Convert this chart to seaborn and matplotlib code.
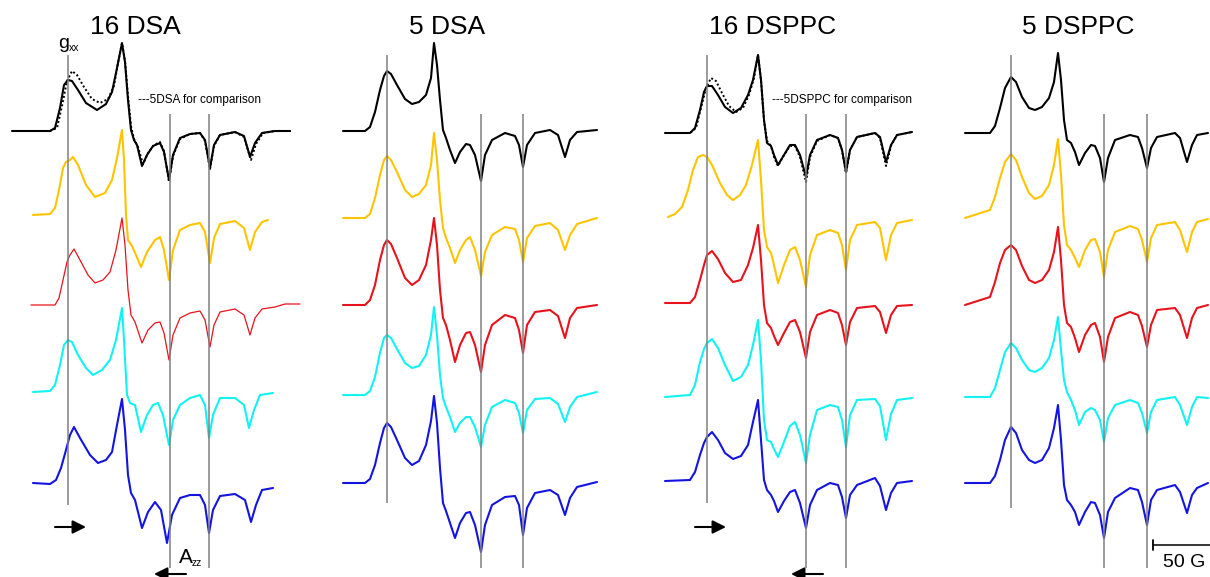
import numpy as np
import pandas as pd
import seaborn as sns
import matplotlib.pyplot as plt

sns.set_theme(style="white")
plt.rcParams['font.family'] = ['Liberation Sans', 'DejaVu Sans']
plt.rcParams['text.color'] = 'black'

# panel titles and guide-line positions (field, px units)
titles = ["16 DSA", "5 DSA", "16 DSPPC", "5 DSPPC"]
title_x = [135, 447, 773, 1078]
gxx_pos = [68, 387, 707, 1011]
gxx_span = [(55, 505), (55, 503), (55, 503), (55, 508)]
azz_pos = [(170, 209), (481, 523), (806, 846), (1104, 1147)]
azz_span = (114, 568)

trace_names = ["black", "yellow", "red", "cyan", "blue"]
trace_colors = {"black": "#000000", "yellow": "#FFC400", "red": "#E8121C",
                "cyan": "#12F2F2", "blue": "#1414E0"}
baselines = [[131, 215, 305, 392, 484],
             [131, 218, 305, 395, 483],
             [133, 217, 303, 397, 481],
             [133, 218, 305, 397, 483]]

# ---- 16 DSA ----
dsa16_black_x = [12, 50, 55, 60, 64, 68, 72, 78, 86, 97, 106, 112, 117, 122, 125, 128, 131, 134, 137, 142,
                 147, 153, 160, 164, 169, 173, 180, 190, 200, 205, 210, 214, 220, 235, 244, 250, 255, 262, 275, 290]
dsa16_black_y = [0, 0, 3, 23, 46, 51, 50, 41, 28, 21, 27, 39, 63, 88, 69, 31, 1, -9, -14, -35,
                 -24, -15, -12, -21, -49, -24, -7, -3, -2, -9, -37, -14, -4, -1, -5, -26, -12, -2, 0, 0]
dsa16_ref_x = [50, 57, 62, 67, 72, 77, 84, 92, 100, 108, 114, 118, 122, 125, 128, 131, 134, 138, 143, 148,
               154, 160, 164, 169, 173, 180, 190, 200, 205, 210, 214, 220, 235, 244, 251, 256, 263, 275, 292]
dsa16_ref_y = [0, 3, 25, 50, 60, 56, 44, 32, 28, 32, 45, 68, 88, 70, 35, 5, -8, -16, -33, -22,
               -14, -11, -20, -51, -25, -8, -3, -2, -10, -38, -15, -4, -1, -6, -29, -13, -2, 0, 0]
dsa16_yellow_x = [33, 50, 55, 59, 63, 66, 70, 73, 78, 86, 95, 105, 112, 117, 122, 124, 126, 128, 132, 136,
                  141, 147, 155, 160, 164, 169, 173, 180, 190, 200, 205, 210, 214, 220, 235, 244, 250, 255, 262, 268]
dsa16_yellow_y = [0, 1, 7, 25, 47, 53, 55, 58, 50, 30, 18, 22, 35, 57, 85, 55, 0, -25, -31, -40,
                  -52, -37, -25, -22, -35, -65, -35, -15, -10, -8, -17, -48, -23, -9, -6, -13, -35, -17, -7, -5]
dsa16_red_x = [31, 55, 59, 63, 67, 70, 74, 80, 88, 95, 103, 110, 116, 122, 125, 128, 131, 135, 142, 148,
               155, 160, 164, 169, 173, 180, 190, 200, 205, 210, 214, 220, 235, 244, 250, 255, 262, 275, 285, 300]
dsa16_red_y = [0, 0, 7, 25, 43, 50, 56, 45, 30, 22, 25, 33, 55, 87, 60, 15, -10, -17, -38, -25,
               -18, -17, -28, -55, -30, -13, -8, -6, -15, -42, -20, -7, -4, -10, -30, -13, -4, -2, 1, 1]
dsa16_cyan_x = [33, 50, 55, 60, 64, 68, 72, 78, 86, 93, 102, 110, 116, 122, 124, 127, 130, 135, 141, 147,
                153, 158, 163, 169, 173, 180, 190, 200, 205, 209, 213, 220, 235, 244, 249, 254, 260, 273]
dsa16_cyan_y = [0, 1, 7, 27, 47, 52, 50, 37, 24, 17, 22, 32, 52, 84, 52, -3, -11, -13, -40, -23,
                -13, -11, -23, -53, -28, -13, -6, -3, -13, -46, -23, -6, -6, -13, -36, -18, -3, -1]
dsa16_blue_x = [33, 50, 56, 61, 66, 70, 74, 80, 90, 98, 106, 112, 117, 122, 125, 128, 131, 135, 142, 148,
                155, 161, 167, 172, 180, 190, 200, 205, 209, 213, 220, 235, 245, 251, 256, 262, 273]
dsa16_blue_y = [1, 0, 4, 16, 34, 49, 57, 46, 29, 21, 24, 32, 59, 85, 54, 9, -9, -16, -44, -28,
                -18, -26, -59, -31, -14, -11, -11, -21, -49, -26, -12, -10, -16, -38, -21, -6, -4]

# ---- 5 DSA ----
dsa5_x = [343, 365, 370, 375, 380, 384, 387, 391, 397, 405, 412, 419, 426, 431, 434, 437, 440, 443, 446, 450,
          455, 460, 466, 470, 475, 481, 485, 492, 505, 515, 519, 523, 527, 535, 550, 558, 565, 570, 577, 597]
dsa5_black_y = [0, 0, 4, 19, 41, 55, 60, 57, 46, 32, 27, 29, 36, 53, 88, 66, 31, 1, -7, -19,
                -32, -21, -13, -14, -24, -50, -24, -9, -2, -5, -14, -36, -14, -2, 1, -4, -26, -9, -1, 1]
dsa5_yellow_y = [0, 0, 4, 20, 43, 58, 62, 58, 46, 28, 21, 24, 33, 53, 85, 58, 18, -10, -20, -30,
                 -45, -32, -22, -19, -32, -58, -34, -17, -9, -11, -22, -44, -20, -8, -5, -12, -32, -17, -6, 0]
dsa5_red_y = [0, 0, 5, 20, 45, 60, 65, 61, 47, 27, 20, 25, 40, 65, 87, 60, 15, -13, -20, -35,
              -57, -40, -28, -27, -40, -67, -40, -20, -10, -13, -25, -48, -20, -7, -5, -11, -33, -13, -3, 0]
dsa5_cyan_y = [0, 0, 4, 18, 42, 57, 60, 57, 46, 32, 27, 29, 40, 60, 88, 60, 20, -3, -12, -22,
               -37, -28, -22, -22, -32, -52, -30, -12, -5, -8, -18, -38, -15, -4, -3, -9, -27, -12, -2, 3]
dsa5_blue_y = [0, 0, 4, 18, 40, 55, 60, 56, 43, 25, 18, 22, 38, 62, 87, 60, 15, -20, -28, -40,
               -55, -40, -30, -29, -42, -69, -42, -22, -14, -13, -22, -52, -25, -10, -7, -12, -32, -15, -4, 1]

# ---- 16 DSPPC ----
dsppc16_x = [665, 690, 695, 700, 704, 707, 712, 718, 725, 733, 741, 748, 753, 758, 761, 764, 767, 771, 774, 778,
             784, 790, 795, 800, 806, 810, 817, 830, 838, 842, 846, 850, 857, 875, 880, 886, 891, 897, 912]
dsppc16_black_y = [0, 0, 5, 23, 41, 47, 47, 38, 26, 20, 25, 38, 53, 78, 53, 13, -10, -13, -22, -32,
                   -22, -12, -12, -22, -44, -22, -7, -2, -5, -17, -39, -17, -4, 0, -4, -29, -12, -2, 1]
dsppc16_ref_x = [665, 690, 696, 701, 706, 711, 716, 722, 729, 736, 743, 749, 754, 758, 761, 764, 767, 771, 774, 778,
                 784, 790, 795, 800, 806, 810, 817, 830, 838, 842, 846, 850, 857, 875, 880, 886, 891, 897, 912]
dsppc16_ref_y = [0, 0, 5, 25, 45, 55, 52, 40, 27, 21, 25, 38, 55, 78, 53, 13, -8, -13, -24, -33,
                 -22, -13, -13, -24, -49, -24, -8, -2, -5, -17, -40, -17, -4, 0, -5, -33, -13, -2, 1]
dsppc16_yellow_x = [668, 675, 682, 688, 693, 698, 703, 707, 712, 720, 727, 733, 740, 746, 752, 758, 761, 764, 767, 771,
                    774, 778, 784, 790, 795, 800, 806, 810, 817, 830, 838, 842, 846, 850, 857, 875, 880, 886, 891, 897, 912]
dsppc16_yellow_y = [0, 3, 10, 27, 47, 60, 62, 60, 52, 34, 22, 17, 22, 32, 52, 77, 37, -13, -30, -36,
                    -48, -66, -48, -33, -30, -43, -70, -38, -18, -13, -16, -28, -53, -23, -8, -5, -11, -43, -18, -6, -3]
dsppc16_red_y = [0, 0, 6, 23, 38, 48, 52, 44, 30, 21, 23, 38, 55, 78, 43, -2, -20, -25, -33, -42,
                 -30, -19, -17, -29, -55, -29, -12, -7, -10, -22, -42, -19, -5, -3, -9, -30, -12, -3, -2]
dsppc16_cyan_y = [0, 2, 12, 35, 48, 54, 58, 49, 32, 16, 20, 32, 52, 77, 37, -23, -43, -45, -52, -60,
                  -45, -29, -25, -38, -66, -38, -13, -8, -10, -23, -50, -18, -3, -2, -9, -43, -17, -3, -1]
dsppc16_blue_y = [0, 1, 9, 26, 38, 44, 49, 41, 28, 22, 25, 36, 59, 81, 41, 1, -9, -14, -20, -31,
                  -20, -11, -9, -22, -47, -24, -9, -2, -4, -16, -37, -14, -4, 3, -5, -29, -12, -2, 0]

# ---- 5 DSPPC ----
dsppc5_x = [965, 990, 995, 1000, 1005, 1011, 1016, 1022, 1029, 1035, 1042, 1049, 1054, 1058, 1061, 1064, 1067, 1071,
            1075, 1079, 1085, 1091, 1095, 1100, 1104, 1108, 1115, 1130, 1138, 1142, 1147, 1151, 1157, 1175, 1180,
            1187, 1192, 1197, 1208]
dsppc5_black_y = [0, 0, 7, 25, 45, 56, 51, 36, 25, 23, 26, 35, 51, 80, 53, 13, -7, -10, -19, -32,
                  -20, -12, -13, -25, -49, -25, -7, -2, -4, -15, -35, -15, -4, 0, -5, -29, -12, -2, 0]
dsppc5_yellow_y = [0, 8, 21, 40, 56, 64, 58, 41, 25, 19, 22, 33, 53, 79, 43, -7, -27, -32, -40, -49,
                   -32, -22, -21, -34, -59, -32, -14, -8, -11, -22, -44, -20, -7, -4, -12, -34, -14, -4, -1]
dsppc5_red_y = [0, 8, 23, 42, 55, 60, 55, 39, 25, 22, 25, 35, 53, 78, 45, 0, -18, -22, -33, -47,
                -30, -20, -18, -32, -57, -32, -13, -7, -10, -21, -42, -20, -5, -3, -10, -33, -13, -3, 0]
dsppc5_cyan_y = [0, 0, 9, 27, 45, 54, 49, 37, 27, 25, 29, 39, 57, 80, 47, 17, 5, -3, -13, -28,
                 -15, -11, -13, -23, -45, -21, -8, -3, -6, -16, -36, -15, -3, 0, -8, -28, -10, 0, -1]
dsppc5_blue_y = [0, 0, 7, 23, 43, 56, 50, 33, 23, 20, 23, 35, 55, 78, 43, -2, -17, -22, -29, -42,
                 -29, -19, -20, -32, -55, -29, -15, -5, -7, -19, -42, -17, -7, -2, -9, -30, -12, -5, 0]

traces = [
    (0, "black", dsa16_black_x, dsa16_black_y),
    (0, "yellow", dsa16_yellow_x, dsa16_yellow_y),
    (0, "red", dsa16_red_x, dsa16_red_y),
    (0, "cyan", dsa16_cyan_x, dsa16_cyan_y),
    (0, "blue", dsa16_blue_x, dsa16_blue_y),
    (1, "black", dsa5_x, dsa5_black_y),
    (1, "yellow", dsa5_x, dsa5_yellow_y),
    (1, "red", dsa5_x, dsa5_red_y),
    (1, "cyan", dsa5_x, dsa5_cyan_y),
    (1, "blue", dsa5_x, dsa5_blue_y),
    (2, "black", dsppc16_x, dsppc16_black_y),
    (2, "yellow", dsppc16_yellow_x, dsppc16_yellow_y),
    (2, "red", dsppc16_x, dsppc16_red_y),
    (2, "cyan", dsppc16_x, dsppc16_cyan_y),
    (2, "blue", dsppc16_x, dsppc16_blue_y),
    (3, "black", dsppc5_x, dsppc5_black_y),
    (3, "yellow", dsppc5_x, dsppc5_yellow_y),
    (3, "red", dsppc5_x, dsppc5_red_y),
    (3, "cyan", dsppc5_x, dsppc5_cyan_y),
    (3, "blue", dsppc5_x, dsppc5_blue_y),
]
refs = [(0, dsa16_ref_x, dsa16_ref_y), (2, dsppc16_ref_x, dsppc16_ref_y)]

fig = plt.figure(figsize=(12.1, 5.77), dpi=100)
ax = fig.add_axes([0, 0, 1, 1])

for p, name, xs, ys in traces:
    base = baselines[p][trace_names.index(name)]
    df = pd.DataFrame({"field": xs, "signal": ys})
    df["y"] = base - df["signal"]
    lw = 0.9 if (p == 0 and name == "red") else 1.5
    sns.lineplot(data=df, x="field", y="y", ax=ax, color=trace_colors[name],
                 lw=lw, sort=False, estimator=None, zorder=2,
                 solid_joinstyle="round", solid_capstyle="round")

for p, xs, ys in refs:
    df = pd.DataFrame({"field": xs, "signal": ys})
    df["y"] = baselines[p][0] - df["signal"]
    sns.lineplot(data=df, x="field", y="y", ax=ax, color="black", lw=1.4,
                 linestyle=(0, (1, 1.2)), sort=False, estimator=None, zorder=2)

# guide lines
for p in range(4):
    ax.vlines(gxx_pos[p], *gxx_span[p], color="#808080", lw=1.1, zorder=3)
    ax.vlines(azz_pos[p], *azz_span, color="#808080", lw=1.1, zorder=3)
    ax.text(title_x[p], 34, titles[p], ha="center", va="baseline", fontsize=19)

# labels and annotations
ax.text(58, 48, "g", fontsize=14, va="baseline")
ax.text(68.5, 51, "xx", fontsize=7.5, va="baseline")
ax.text(179, 563, "A", fontsize=15, va="baseline")
ax.text(191.5, 566, "zz", fontsize=7.5, va="baseline")
ax.text(138, 103, "---5DSA for comparison", fontsize=8.5, va="baseline")
ax.text(772, 103, "---5DSPPC for comparison", fontsize=8.5, va="baseline")

arrow_kw = dict(arrowstyle="-|>", color="black", lw=1.5, mutation_scale=20,
                shrinkA=0, shrinkB=0)
for start, end in [((55, 527), (86, 527)), ((186, 574), (154, 574)),
                   ((695, 527), (726, 527)), ((823, 574), (791, 574))]:
    ax.annotate("", xy=end, xytext=start, arrowprops=arrow_kw)

# 50 G scale bar
ax.plot([1153, 1210], [545, 545], color="black", lw=1.1)
ax.plot([1153, 1153], [540, 550], color="black", lw=1.3)
ax.text(1163, 567, "50 G", fontsize=14, va="baseline")

ax.set_xlim(0, 1210)
ax.set_ylim(577, 0)
ax.axis("off")
if ax.get_legend() is not None:
    ax.get_legend().remove()

fig.savefig("out.png", dpi=100)
